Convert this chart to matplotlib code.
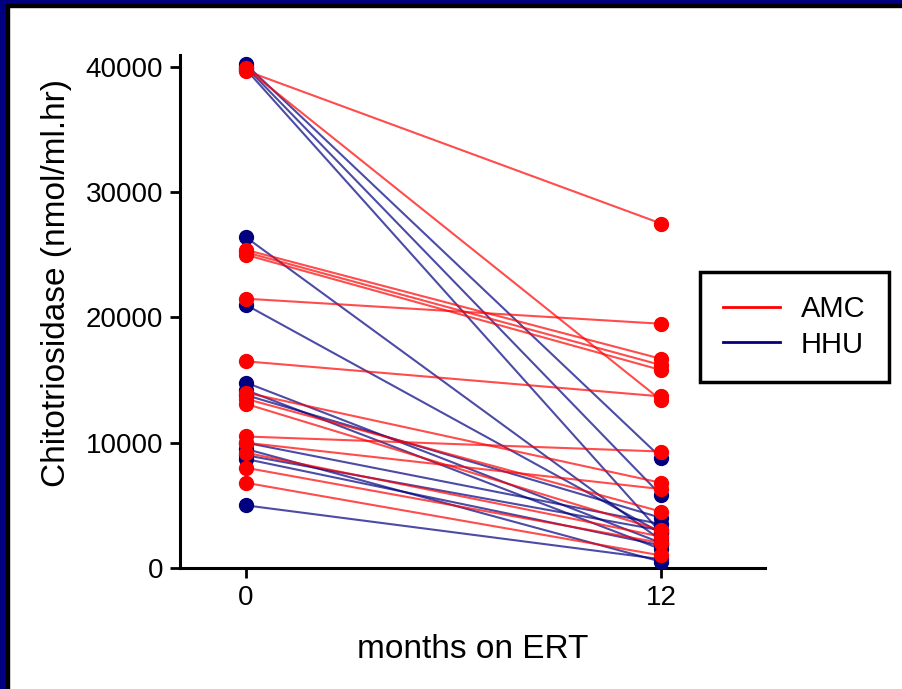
import matplotlib
matplotlib.use("Agg")
import matplotlib.pyplot as plt
from matplotlib.patches import Rectangle
from matplotlib.lines import Line2D

plt.rcParams['font.family'] = ['Liberation Sans', 'DejaVu Sans']

months = [0, 12]
amc_start = [39700, 39900, 25400, 25200, 25000, 21500, 16500, 14000, 13500, 13100, 10500, 10000, 9200, 8000, 6800]
amc_end   = [27500, 13400, 16700, 16200, 15800, 19500, 13700, 6800, 4500, 3000, 9300, 6300, 2500, 2000, 1000]
hhu_start = [40200, 40000, 39800, 26400, 21000, 14800, 14200, 13800, 10000, 9000, 8700, 9500, 5000]
hhu_end   = [8800, 5800, 2800, 2200, 2800, 2000, 1500, 4000, 3500, 3000, 1800, 500, 700]
yticks = [0, 10000, 20000, 30000, 40000]
xticks = [0, 12]

RED = '#FF0000'
NAVY = '#000080'

W, H = 903, 689
fig = plt.figure(figsize=(W/100, H/100), dpi=100)
ax = fig.add_axes([180/W, 1-568/H, (765-180)/W, (568-55)/H])

for s, e in zip(hhu_start, hhu_end):
    ax.plot(months, [s, e], color=NAVY, lw=1.5, alpha=0.7, zorder=2)
    ax.plot(months, [s, e], ls='none', marker='o', ms=10, color=NAVY, zorder=3)
for s, e in zip(amc_start, amc_end):
    ax.plot(months, [s, e], color=RED, lw=1.5, alpha=0.7, zorder=2)
    ax.plot(months, [s, e], ls='none', marker='o', ms=10, color=RED, zorder=3)

ax.set_xlim(-1.91, 15.0)
ax.set_ylim(0, 40958)
ax.set_xticks(xticks)
ax.set_yticks(yticks)
ax.set_yticklabels([str(v) for v in yticks])
ax.tick_params(axis='both', direction='out', length=7, width=2, labelsize=20, pad=5, colors='black')
for sp in ['top', 'right']:
    ax.spines[sp].set_visible(False)
for sp in ['left', 'bottom']:
    ax.spines[sp].set_linewidth(2.2)
ax.set_xlabel('months on ERT', fontsize=24, labelpad=17)
fig.text(57/W, 1-283/H, 'Chitotriosidase (nmol/ml.hr)', rotation=90, fontsize=24,
         ha='center', va='center')

handles = [Line2D([0], [0], color=RED, lw=2), Line2D([0], [0], color=NAVY, lw=2)]
leg = fig.legend(handles, ['AMC', 'HHU'], loc='upper left',
                 bbox_to_anchor=(700/W, 1-272/H), bbox_transform=fig.transFigure,
                 fontsize=21, handlelength=1.95, handletextpad=0.7, borderpad=0.8,
                 labelspacing=0.25, fancybox=False, framealpha=1, borderaxespad=0)
leg.get_frame().set_edgecolor('black')
leg.get_frame().set_linewidth(2.5)

# frame border (top and left)
fig.patches.append(Rectangle((0, 1-4/H), 1, 4/H, transform=fig.transFigure, color=NAVY, zorder=10))
fig.patches.append(Rectangle((0, 1-6.5/H), 1, 2.5/H, transform=fig.transFigure, color='black', zorder=10))
fig.patches.append(Rectangle((0, 0), 6/W, 1, transform=fig.transFigure, color=NAVY, zorder=10))
fig.patches.append(Rectangle((6/W, 0), 2.5/W, 1-4/H, transform=fig.transFigure, color='black', zorder=10))

fig.savefig('out.png', dpi=100)
